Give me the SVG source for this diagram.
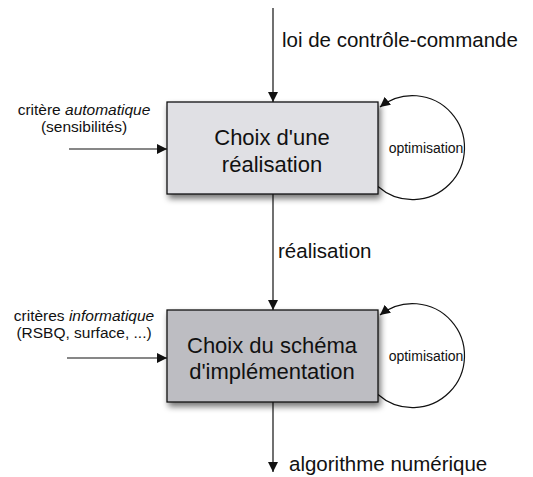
<svg xmlns="http://www.w3.org/2000/svg" width="533" height="477" viewBox="0 0 533 477">
<style>
text{font-family:"Liberation Sans",Arial,sans-serif;fill:#111}
.box{stroke:#111;stroke-width:1.3}
.ln{stroke:#111;stroke-width:1.2;fill:none}
.big{font-size:22px;text-anchor:middle}
.lbl{font-size:20.5px}
.side{font-size:15.5px;text-anchor:middle}
.opt{font-size:14px;text-anchor:middle}
</style>
<defs>
<marker id="ah" viewBox="0 0 10 10" refX="10" refY="5" markerWidth="10" markerHeight="10" markerUnits="userSpaceOnUse" orient="auto">
<path d="M0,0 L10,5 L0,10 z" fill="#111"/>
</marker>
<filter id="sh" x="-10%" y="-10%" width="130%" height="140%">
<feGaussianBlur in="SourceAlpha" stdDeviation="3"/>
<feOffset dx="2" dy="4" result="b"/>
<feComponentTransfer><feFuncA type="linear" slope="0.55"/></feComponentTransfer>
<feMerge><feMergeNode/><feMergeNode in="SourceGraphic"/></feMerge>
</filter>
</defs>
<g id="connectors">
<line class="ln" x1="273" y1="8" x2="273" y2="102" marker-end="url(#ah)"/>
<line class="ln" x1="273" y1="194" x2="273" y2="310" marker-end="url(#ah)"/>
<line class="ln" x1="273" y1="402" x2="273" y2="472" marker-end="url(#ah)"/>
<line class="ln" x1="69" y1="149" x2="167" y2="149" marker-end="url(#ah)"/>
<line class="ln" x1="67" y1="358" x2="167" y2="358" marker-end="url(#ah)"/>
<path class="ln" d="M378,186.5 A52,52 0 1 0 380,107" marker-end="url(#ah)"/>
<path class="ln" d="M378,394.5 A52,52 0 1 0 380,315" marker-end="url(#ah)"/>
</g>
<g id="node1">
<rect class="box" x="167" y="102" width="211" height="92" fill="#e0e0e4" filter="url(#sh)"/>
<text class="big" x="272" y="145">Choix d'une</text>
<text class="big" x="272" y="172">réalisation</text>
</g>
<g id="node2">
<rect class="box" x="167" y="310" width="211" height="92" fill="#bdbdc2" filter="url(#sh)"/>
<text class="big" x="272" y="353">Choix du schéma</text>
<text class="big" x="272" y="379">d'implémentation</text>
</g>
<g id="labels">
<text class="lbl" x="282" y="47">loi de contrôle-commande</text>
<text class="lbl" x="278" y="258">réalisation</text>
<text class="lbl" x="289" y="471">algorithme numérique</text>
<text class="side" x="84" y="115">critère <tspan font-style="italic">automatique</tspan></text>
<text class="side" x="84" y="132">(sensibilités)</text>
<text class="side" x="84" y="321">critères <tspan font-style="italic">informatique</tspan></text>
<text class="side" x="84" y="338">(RSBQ, surface, ...)</text>
<text class="opt" x="426" y="153">optimisation</text>
<text class="opt" x="426" y="361">optimisation</text>
</g>
</svg>
